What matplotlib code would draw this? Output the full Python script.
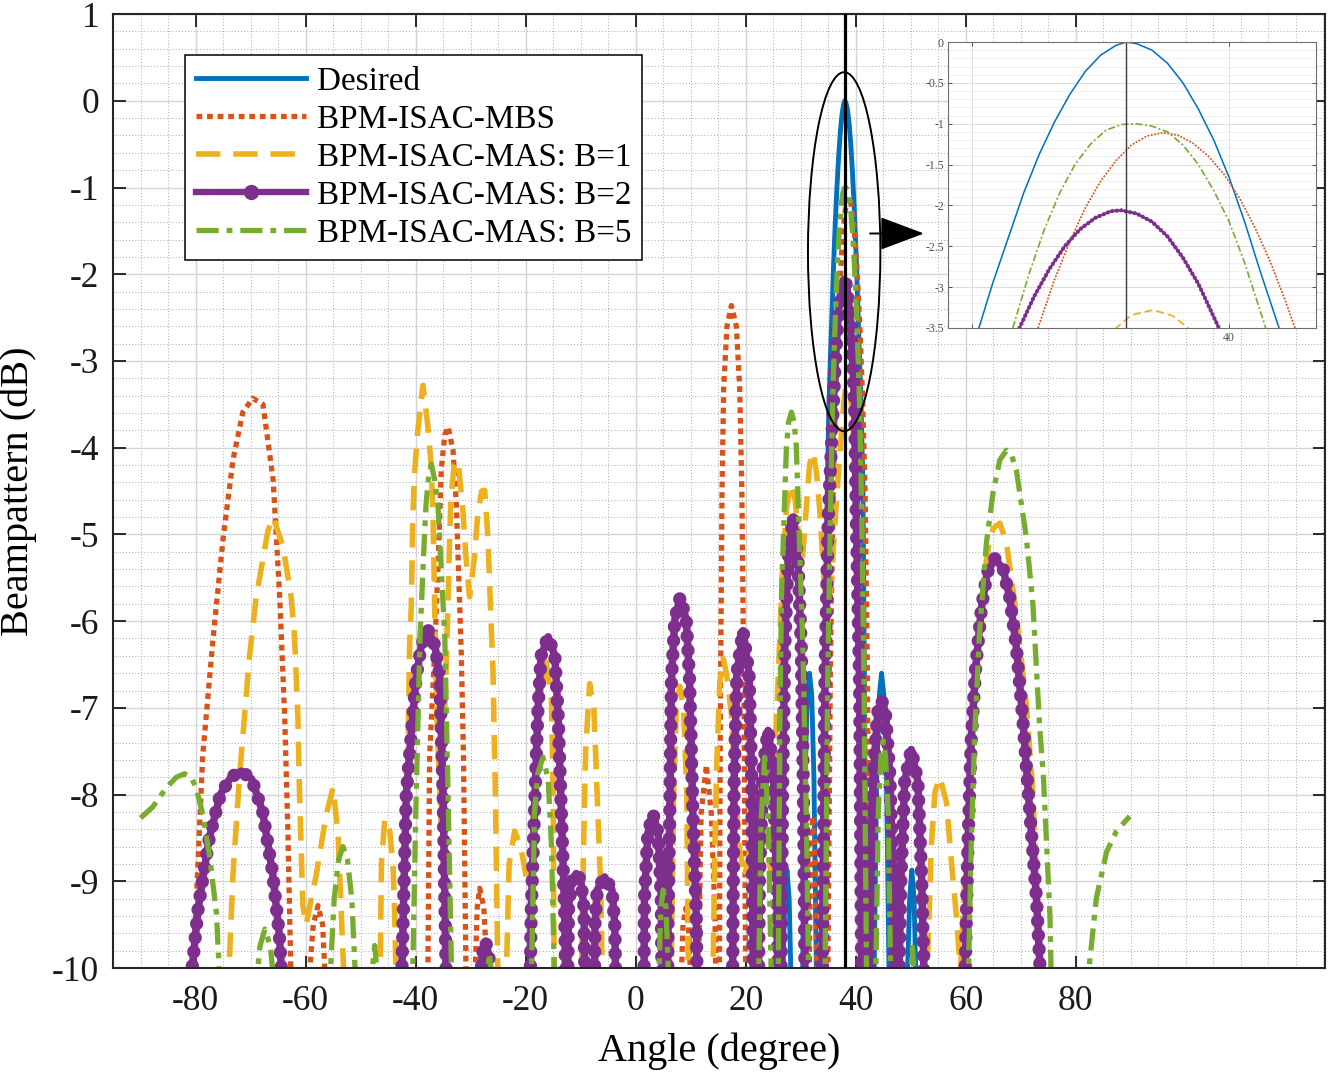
import numpy as np
import matplotlib
matplotlib.use('Agg')
import matplotlib.pyplot as plt
from matplotlib.lines import Line2D
from matplotlib.patches import Ellipse
from matplotlib.ticker import MultipleLocator

nan = np.nan

# ---- data (angle in degree, beampattern in dB), nan = break between lobes
desired_x = [26.7, 27.1, 27.5, 27.9, 28.3, nan,
             30.3, 30.8, 31.2, 31.6, 32.0, 32.4, 32.9, nan,
             34.2, 34.5, 34.8, 35.13, 35.4, 35.7, 36.0, 36.3, 36.6, 36.9, 37.2, 37.5, 37.8, 38.0, 38.2, 38.5,
             38.8, 39.1, 39.4, 39.7, 40.0, 40.3, 40.6, 40.97, 41.3, 41.6, 41.9, nan,
             43.3, 43.8, 44.3, 44.7, 45.1, 45.6, 46.1, nan,
             49.3, 49.8, 50.2, 50.6, 51.0]
desired_y = [-10.3, -9.2, -8.87, -9.2, -10.3, nan,
             -10.3, -7.8, -6.85, -6.6, -6.85, -7.8, -10.3, nan,
             -10.3, -6.8, -4.6, -3.5, -2.95, -2.4, -1.85, -1.38, -0.98, -0.64, -0.36, -0.16, -0.04, 0.0, -0.02, -0.1,
             -0.26, -0.5, -0.82, -1.2, -1.66, -2.2, -2.8, -3.5, -4.4, -6.8, -10.3, nan,
             -10.3, -7.8, -6.85, -6.6, -6.85, -7.8, -10.3, nan,
             -10.3, -9.2, -8.87, -9.2, -10.3]

mbs_x = [-80.8, -79.9, -78.7, -76.8, -75.0, -73.2, -71.4, -69.6, -67.75, -65.9, -64.7, -63.8, -63.2, -62.6, nan,
         -59.6, -58.6, -57.75, -56.9, -56.3, nan,
         -37.8, -37.45, -36.55, -35.95, -35.34, -34.7, -34.1, -33.2, -32.6, -32.3, -32.0, -31.7, -31.3, -30.8, nan,
         -29.3, -28.8, -28.35, -27.6, -26.8, nan,
         8.2, 8.6, 9.1, 9.6, 10.1, nan,
         11.4, 11.6, 11.9, 12.85, 13.75, 14.4, 14.6, nan,
         15.2, 15.4, 15.7, 16.0, 16.6, 17.4, 18.3, 18.9, 19.3, 19.7, 20.0, nan,
         31.5, 31.8, 32.2, 32.6, 33.0, nan,
         34.9, 35.4, 35.9, 36.28, 36.6, 36.9, 37.2, 37.5, 37.8, 38.1, 38.4, 38.71, 39.0, 39.3, 39.6, 39.9,
         40.2, 40.5, 40.8, 41.1, 41.28, 41.7, 42.1, 42.6]
mbs_y = [-10.3, -9.28, -7.55, -6.19, -5.05, -4.14, -3.59, -3.43, -3.5, -4.37, -5.73, -7.1, -8.46, -10.3, nan,
         -10.3, -9.5, -9.28, -9.5, -10.3, nan,
         -10.3, -7.55, -6.37, -5.41, -4.26, -3.85, -3.76, -4.03, -4.65, -5.22, -5.8, -6.37, -7.55, -10.3, nan,
         -10.3, -9.3, -9.08, -9.3, -10.3, nan,
         -10.3, -9.5, -9.31, -9.5, -10.3, nan,
         -10.3, -9.37, -8.22, -7.66, -8.22, -9.37, -10.3, nan,
         -10.3, -7.0, -4.5, -3.3, -2.6, -2.36, -2.6, -3.3, -4.5, -7.0, -10.3, nan,
         -10.3, -8.6, -8.25, -8.6, -10.3, nan,
         -10.3, -6.5, -4.5, -3.5, -2.91, -2.44, -2.03, -1.7, -1.45, -1.26, -1.15, -1.11, -1.14, -1.24, -1.4, -1.62,
         -1.91, -2.27, -2.69, -3.18, -3.5, -4.5, -6.5, -10.3]

b1_x = [-74.1, -73.2, -72.0, -71.1, -70.2, -69.0, -67.75, -66.85, -65.9, -64.1, -62.6, -62.0, -61.4, -61.1, -60.5,
        -59.9, -58.05, -56.25, -55.0, -54.1, -53.5, -52.9, nan,
        -46.5, -46.2, -45.6, -44.7, -44.1, -43.8, -43.5, nan,
        -42.4, -42.0, -41.4, -41.1, -40.8, -40.5, -40.2, -39.6, -38.67, -37.76, -37.15, -36.85, -36.55, -36.2,
        -35.4, -34.8, -34.4, -34.0, -33.6, -33.0, -32.3, -31.4, -30.9, -30.2, -29.3, -28.7, -28.0, -27.45,
        -26.85, -26.55, -26.25, -25.95, -25.5, -25.0, nan,
        -23.6, -23.0, -22.0, -20.9, -19.6, -19.0, -18.2, -17.2, -16.3, -15.3, -15.0, -14.8, nan,
        -9.9, -9.6, -9.1, -8.37, -7.6, -7.0, -6.4, -6.0, nan,
        6.4, 6.9, 7.4, 8.0, 8.7, 9.3, 9.6, nan,
        14.0, 14.4, 14.7, 15.3, 15.9, 16.5, 17.4, 17.7, 18.8, 19.8, 21.2, 22.6, 23.8, 24.6, 25.3, 26.0, 26.7,
        27.4, 28.2, 29.0, 29.7, 30.3, 31.0, 31.6, 32.25, 32.9, 33.5, 34.2, 34.9, 35.6, 36.1, 36.5, 37.1, 37.8,
        38.1, 38.52, 38.9, 39.2, 39.9, 40.5, 40.9, 41.3, nan,
        52.85, 53.75, 54.4, 55.3, 56.5, 57.4, 58.3, 59.05, 59.2, 59.8, 60.7, 61.9, 63.15, 64.2, 65.0, 66.2,
        67.4, 69.2, 71.0, 72.2, 72.85, 73.45]
b1_y = [-10.3, -8.92, -7.78, -7.1, -6.41, -5.73, -5.28, -4.96, -4.8, -5.14, -5.73, -6.19, -7.1, -8.0, -9.28,
        -9.5, -8.92, -8.23, -7.92, -8.46, -9.37, -10.3, nan,
        -10.3, -8.78, -8.28, -8.42, -8.83, -9.37, -10.3, nan,
        -10.3, -8.92, -7.55, -6.3, -5.84, -4.8, -4.3, -3.8, -3.28, -3.76, -4.22, -4.76, -5.76, -7.0,
        -8.3, -7.2, -6.45, -5.5, -4.6, -4.2, -4.15, -4.72, -5.22, -5.72, -5.26, -4.76, -4.5, -4.49,
        -5.03, -5.57, -6.07, -6.53, -8.0, -10.3, nan,
        -10.3, -8.8, -8.42, -8.6, -9.05, -8.9, -7.8, -6.8, -6.45, -6.9, -8.0, -10.3, nan,
        -10.3, -9.0, -7.5, -6.72, -7.0, -8.0, -9.0, -10.3, nan,
        -10.3, -8.0, -7.0, -6.75, -7.0, -8.0, -10.3, nan,
        -10.3, -8.6, -7.72, -6.7, -6.43, -6.6, -7.07, -7.45, -8.6, -8.95, -8.5, -8.2, -8.6, -8.9, -7.6, -6.5, -5.4,
        -4.7, -4.42, -4.6, -5.1, -5.3, -4.7, -4.2, -4.05, -4.3, -4.75, -5.5, -6.0, -5.5, -5.0, -4.6, -4.1, -3.5,
        -3.34, -3.28, -3.35, -3.5, -4.2, -5.1, -6.8, -10.3, nan,
        -10.3, -8.58, -7.97, -7.8, -8.09, -8.78, -9.4, -10.05, -9.8, -8.99, -7.77, -6.54, -5.6, -5.1, -4.93, -4.87,
        -5.1, -5.93, -6.95, -7.97, -8.99, -10.3]

b2_x = [-81.1, -79.5, -77.5, -75.5, -73.6, -71.7, -69.8, -67.8, -66.0, -64.8, -64.1, nan,
        -42.6, -41.7, -39.9, -38.95, -37.76, -36.5, -35.6, -35.0, -34.4, nan,
        -28.3, -27.9, -27.3, -26.7, -26.3, nan,
        -19.2, -19.0, -18.4, -17.8, -17.2, -15.9, -14.7, -14.1, -13.5, -12.9, -12.7, nan,
        -12.4, -12.2, -11.6, -10.8, -10.0, -9.4, -9.2, nan,
        -7.5, -7.4, -7.0, -5.64, -4.3, -3.8, -3.6, nan,
        1.5, 1.6, 2.2, 3.15, 4.1, 4.65, 4.8, nan,
        5.8, 5.9, 6.2, 6.5, 7.1, 8.1, 9.2, 9.8, 10.4, 11.0, 11.2, nan,
        17.6, 17.7, 17.9, 18.4, 19.5, 20.6, 21.1, 21.3, 21.4, nan,
        22.3, 22.5, 23.15, 24.06, 25.0, 25.6, 25.9, nan,
        26.4, 26.7, 27.1, 27.7, 28.6, 29.5, 30.1, 30.5, 30.8, nan,
        33.9, 34.4, 35.0, 35.92, 36.2, 36.5, 36.8, 37.1, 37.4, 37.7, 37.9, 38.2, 38.5, 38.8, 39.1, 39.4,
        39.8, 40.1, 40.7, 41.1, nan,
        42.3, 42.55, 43.2, 44.0, 44.7, 45.4, 46.2, 46.8, 47.0, nan,
        47.8, 48.2, 48.9, 50.1, 51.3, 52.0, 52.5, nan,
        59.8, 60.4, 61.0, 61.8, 62.85, 63.9, 65.3, 66.8, 68.0, 69.2, 70.4, 71.6, 72.85, 73.75]
b2_y = [-10.3, -9.3, -8.5, -8.0, -7.8, -7.73, -7.82, -8.2, -8.9, -9.6, -10.3, nan,
        -10.3, -8.0, -6.64, -6.28, -6.1, -6.28, -6.64, -8.0, -10.3, nan,
        -10.3, -9.85, -9.69, -9.85, -10.3, nan,
        -10.3, -9.37, -8.22, -7.07, -6.4, -6.18, -6.4, -7.07, -8.22, -9.37, -10.3, nan,
        -10.3, -9.3, -8.98, -8.91, -8.98, -9.3, -10.3, nan,
        -10.3, -9.5, -9.1, -8.95, -9.1, -9.5, -10.3, nan,
        -10.3, -9.2, -8.45, -8.22, -8.45, -9.2, -10.3, nan,
        -10.3, -9.37, -8.22, -6.68, -5.99, -5.72, -5.99, -6.68, -8.22, -9.37, -10.3, nan,
        -10.3, -9.37, -7.83, -6.6, -6.11, -6.6, -7.83, -9.37, -10.3, nan,
        -10.3, -8.99, -7.7, -7.26, -7.7, -8.99, -10.3, nan,
        -10.3, -8.0, -6.3, -5.3, -4.8, -5.3, -6.3, -8.0, -10.3, nan,
        -10.3, -6.7, -4.8, -3.5, -3.12, -2.78, -2.5, -2.29, -2.15, -2.07, -2.06, -2.1, -2.2, -2.38, -2.64, -2.96,
        -3.5, -4.8, -6.7, -10.3, nan,
        -10.3, -8.99, -7.77, -7.05, -6.91, -7.05, -7.77, -8.99, -10.3, nan,
        -10.3, -9.0, -7.85, -7.48, -7.85, -9.0, -10.3, nan,
        -10.3, -8.58, -7.36, -6.54, -5.85, -5.44, -5.28, -5.4, -5.73, -6.3, -7.15, -8.17, -9.19, -10.3]

b5_x = [-90.0, -87.75, -85.3, -83.5, -82.0, -80.8, -79.9, -78.6, -77.5, -76.2, -75.5, nan,
        -69.1, -68.3, -67.4, -66.4, -65.6, nan,
        -55.7, -54.8, -54.0, -53.2, -52.4, -51.6, -50.8, nan,
        -48.3, -47.45, -46.6, nan,
        -40.6, -40.0, -39.2, -38.8, -38.4, -38.1, -37.6, -37.15, -36.6, -35.95, -35.64, -35.15, -34.7, -34.0, -33.4, nan,
        -27.3, -26.6, -25.9, nan,
        -19.0, -18.4, -17.8, -16.85, -15.9, -15.3, -14.7, nan,
        4.1, 4.6, 5.0, 5.5, 6.1, nan,
        22.3, 22.8, 23.45, 24.1, 24.7, nan,
        25.9, 26.2, 26.5, 26.8, 27.1, 27.4, 27.8, 28.3, 28.8, 29.2, 29.5, 29.8, 30.1, 30.4, 31.0, 31.5, nan,
        34.4, 34.9, 35.4, 35.79, 36.1, 36.4, 36.7, 37.0, 37.3, 37.6, 37.9, 38.19, 38.5, 38.8, 39.1, 39.4,
        39.7, 40.0, 40.3, 40.71, 41.1, 41.5, 42.0, nan,
        43.6, 44.1, 44.6, 45.0, 45.4, 45.9, 46.4, nan,
        49.7, 50.3, 50.9, nan,
        60.4, 61.0, 61.6, 62.5, 63.75, 65.0, 66.2, 67.4, 68.4, 69.2, 71.0, 72.2, 72.85, 73.45, 74.1, 74.7, 75.3, 75.6, nan,
        81.9, 83.75, 85.6, 87.4, 89.8]
b5_y = [-8.27, -8.14, -7.92, -7.8, -7.76, -7.8, -7.92, -8.25, -8.69, -9.37, -10.3, nan,
        -10.3, -9.75, -9.55, -9.75, -10.3, nan,
        -10.3, -9.2, -8.75, -8.6, -8.75, -9.2, -10.3, nan,
        -10.3, -9.74, -10.3, nan,
        -10.3, -8.3, -6.18, -5.61, -5.03, -4.65, -4.3, -4.19, -4.35, -4.65, -5.03, -5.61, -6.18, -8.3, -10.3, nan,
        -10.3, -9.83, -10.3, nan,
        -10.3, -8.22, -7.76, -7.57, -7.83, -8.6, -10.3, nan,
        -10.3, -9.3, -9.1, -9.3, -10.3, nan,
        -10.3, -8.3, -7.57, -8.3, -10.3, nan,
        -10.3, -7.23, -5.72, -5.15, -4.57, -3.99, -3.7, -3.59, -3.7, -3.99, -4.57, -5.15, -5.72, -6.3, -8.2, -10.3, nan,
        -10.3, -6.7, -4.8, -3.5, -2.85, -2.3, -1.85, -1.5, -1.25, -1.08, -1.01, -1.0, -1.03, -1.1, -1.26, -1.5,
        -1.82, -2.2, -2.7, -3.5, -4.8, -6.7, -10.3, nan,
        -10.3, -8.2, -7.55, -7.38, -7.55, -8.2, -10.3, nan,
        -10.3, -9.76, -10.3, nan,
        -10.3, -8.58, -7.36, -6.13, -5.1, -4.5, -4.14, -4.03, -4.1, -4.26, -5.03, -5.8, -6.54, -7.24, -7.77, -8.58, -9.4, -10.3, nan,
        -10.3, -9.19, -8.66, -8.42, -8.25]

legend_labels = ['Desired', 'BPM-ISAC-MBS', 'BPM-ISAC-MAS: B=1',
                 'BPM-ISAC-MAS: B=2', 'BPM-ISAC-MAS: B=5']
target_angle = 38

c_blue = '#0072BD'
c_orange = '#D95319'
c_yellow = '#EDB120'
c_purple = '#7E2F8E'
c_green = '#77AC30'

plt.rcParams['font.family'] = ['Liberation Serif', 'DejaVu Serif']
plt.rcParams['axes.unicode_minus'] = False
plt.rcParams['lines.solid_joinstyle'] = 'round'
plt.rcParams['lines.dash_joinstyle'] = 'round'

st_orange = (0, (1.1, 0.9))
st_yellow = (0, (4.4, 2.3))
st_green = (0, (4.2, 1.5, 1.1, 1.5))


def draw_curves(ax, s):
    # s scales the line widths (1 = main plot, smaller for the zoom box)
    ax.plot(desired_x, desired_y, color=c_blue, lw=3.5 * s, solid_capstyle='butt')
    ax.plot(mbs_x, mbs_y, color=c_orange, lw=3.8 * s, ls=st_orange)
    ax.plot(b1_x, b1_y, color=c_yellow, lw=4.0 * s, ls=st_yellow)
    ax.plot(b2_x, b2_y, color=c_purple, lw=5.4 * s, solid_capstyle='round')
    ax.plot(b2_x, b2_y, color=c_purple, lw=9.6 * s, ls=(0, (0.01, 1.05)),
            dash_capstyle='round')
    ax.plot(b5_x, b5_y, color=c_green, lw=3.8 * s, ls=st_green)


fig = plt.figure(figsize=(13.33, 10.75), dpi=100)
ax = fig.add_axes([0.0848, 0.0995, 0.9092, 0.8874])

draw_curves(ax, 1.0)
ax.axvline(target_angle, color='k', lw=2.3, zorder=6)

ax.set_xlim(-95, 125.3)
ax.set_ylim(-10, 1)
ax.set_xticks(np.arange(-80, 81, 20))
ax.set_yticks(np.arange(-10, 2, 1))
ax.set_yticklabels([str(v) for v in range(-10, 2)])
ax.xaxis.set_minor_locator(MultipleLocator(5))
ax.yaxis.set_minor_locator(MultipleLocator(0.2))
ax.grid(True, which='major', color='#d4d4d4', lw=1.0, ls='-')
ax.grid(True, which='minor', color='#a8a8a8', lw=0.7, ls=(0, (1, 2.2)))
ax.set_axisbelow(True)
ax.tick_params(which='major', direction='in', length=9, width=1.3, top=True, right=True,
               labelsize=25.5, colors='#1a1a1a')
ax.tick_params(axis='x', which='major', pad=12)
ax.tick_params(axis='y', which='major', pad=10)
ax.tick_params(which='minor', length=0)
for sp in ax.spines.values():
    sp.set_linewidth(1.5)
    sp.set_color('#262626')

ax.set_xlabel('Angle (degree)', fontsize=29)
ax.set_ylabel('Beampattern (dB)', fontsize=29)
ax.xaxis.set_label_coords(0.5, -0.068)
ax.yaxis.set_label_coords(-0.063, 0.5)

# ellipse round the main lobe and the arrow to the zoom box
ax.add_patch(Ellipse((37.9, -1.74), 13.16, 4.14, fill=False, ec='k', lw=1.4, zorder=7))
ax.annotate('', xy=(52.4, -1.53), xytext=(42.6, -1.53),
            arrowprops=dict(arrowstyle='-|>,head_length=2.0,head_width=0.75', color='k',
                            lw=1.4, mutation_scale=14, shrinkA=0, shrinkB=0), zorder=7)

handles = [
    Line2D([0, 1], [0, 0], color=c_blue, lw=3.5),
    Line2D([0, 1], [0, 0], color=c_orange, lw=3.8, ls=st_orange),
    Line2D([0, 1], [0, 0], color=c_yellow, lw=4.0, ls=st_yellow),
    Line2D([0, 0.5, 1], [0, 0, 0], color=c_purple, lw=4.6, marker='o', markersize=10, markevery=[1]),
    Line2D([0, 1], [0, 0], color=c_green, lw=3.8, ls=st_green),
]
leg = ax.legend(handles, legend_labels, loc='upper left', bbox_to_anchor=(0.0594, 0.957),
                borderaxespad=0, fontsize=23.9, handlelength=3.31, handletextpad=0.33,
                labelspacing=0.23, borderpad=0.33, fancybox=False, framealpha=1)
leg.get_frame().set_edgecolor('k')
leg.get_frame().set_linewidth(1.1)

# zoom box
axin = fig.add_axes([0.7112, 0.6949, 0.2761, 0.266])
axin.set_facecolor('white')
draw_curves(axin, 0.32)
axin.axvline(target_angle, color='#3a3a3a', lw=1.0)
axin.set_xlim(34.53, 41.69)
axin.set_ylim(-3.5, 0)
axin.set_xticks([35, 40])
axin.set_xticklabels(['', '40'])
axin.set_yticks(np.arange(-3.5, 0.01, 0.5))
axin.set_yticklabels(['-3.5', '-3', '-2.5', '-2', '-1.5', '-1', '-0.5', '0'])
axin.yaxis.set_minor_locator(MultipleLocator(0.1))
axin.grid(True, which='major', color='#dcdcdc', lw=0.7)
axin.grid(True, which='minor', axis='y', color='#efefef', lw=0.6)
axin.set_axisbelow(True)
axin.tick_params(which='major', direction='in', length=3, width=0.7, top=True, right=True,
                 labelsize=8.5, colors='#4d4d4d', pad=3)
axin.tick_params(which='minor', length=0)
for sp in axin.spines.values():
    sp.set_linewidth(0.8)
    sp.set_color('#6e6e6e')

fig.savefig('out.png', dpi=100)
